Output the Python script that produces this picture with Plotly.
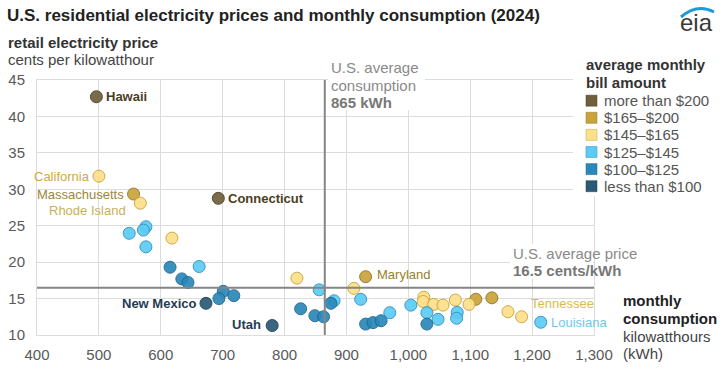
import plotly.graph_objects as go

# ---------------- data ----------------
kwh = [496, 500, 556, 567, 693, 549, 576, 572, 576, 618, 615, 662, 634, 644, 673,
       701, 694, 718, 780, 820, 931, 856, 912, 923, 880, 875, 826, 849, 863, 931,
       943, 956, 970, 1004, 1025, 1024, 1041, 1056, 1030, 1030, 1048, 1076, 1079,
       1078, 1098, 1109, 1135, 1161, 1183, 1214]
cents = [42.7, 31.8, 29.35, 28.1, 28.76, 23.96, 24.86, 24.4, 22.1, 23.3, 19.3, 19.4,
         17.7, 17.2, 14.35, 16.0, 15.0, 15.4, 11.3, 17.8, 18.0, 16.2, 16.4, 14.9,
         14.7, 14.35, 13.6, 12.65, 12.5, 11.5, 11.7, 11.96, 13.06, 14.1, 15.2, 14.6,
         14.2, 14.1, 13.06, 11.5, 12.15, 14.8, 13.1, 12.3, 14.2, 14.9, 15.1, 13.2,
         12.5, 11.75]
bill = [">200", "145-165", "165-200", "145-165", ">200",
        "125-145", "125-145", "125-145", "125-145", "145-165",
        "100-125", "125-145", "100-125", "100-125", "<100",
        "100-125", "100-125", "100-125", "<100", "145-165",
        "165-200", "125-145", "145-165", "125-145", "125-145",
        "100-125", "100-125", "100-125", "100-125", "100-125",
        "100-125", "100-125", "125-145", "125-145", "145-165",
        "145-165", "145-165", "145-165", "125-145", "100-125",
        "125-145", "145-165", "125-145", "125-145", "145-165",
        "165-200", "165-200", "145-165", "145-165", "125-145"]

bill_keys = [">200", "165-200", "145-165", "125-145", "100-125", "<100"]
bill_labels = ["more than $200", "$165–$200", "$145–$165", "$125–$145",
               "$100–$125", "less than $100"]

# labelled states: (name, index into data)
label_names = ["Hawaii", "California", "Massachusetts", "Rhode Island", "Connecticut",
               "New Mexico", "Utah", "Maryland", "Tennessee", "Louisiana"]
label_index = [0, 1, 2, 3, 4, 14, 18, 20, 48, 49]

avg_kwh = 865
avg_price = 16.5
x_ticks = [400, 500, 600, 700, 800, 900, 1000, 1100, 1200, 1300]
y_ticks = [10, 15, 20, 25, 30, 35, 40, 45]

# ---------------- styles ----------------
FONT = "Liberation Sans, Arial, sans-serif"
fill = {">200": "#6f5f3b", "165-200": "#c9a43a", "145-165": "#fde08a",
        "125-145": "#5ccbf5", "100-125": "#2b88b8", "<100": "#2b5a78"}
edge = {">200": "#4a3e22", "165-200": "#8f7428", "145-165": "#c9a43a",
        "125-145": "#2f8fc0", "100-125": "#1f6690", "<100": "#1c3c52"}

label_style = {
    "Hawaii": dict(color="#4a3d1f", bold=True, anchor="left", dx=8, dy=0),
    "California": dict(color="#cfaa40", bold=False, anchor="right", dx=-7, dy=0),
    "Massachusetts": dict(color="#9b8540", bold=False, anchor="right", dx=-8, dy=0),
    "Rhode Island": dict(color="#c9b15a", bold=False, anchor="right", dx=-12, dy=-7),
    "Connecticut": dict(color="#4a3d1f", bold=True, anchor="left", dx=8, dy=0),
    "New Mexico": dict(color="#1e3c53", bold=True, anchor="right", dx=-8, dy=0),
    "Utah": dict(color="#1e3c53", bold=True, anchor="right", dx=-9, dy=1),
    "Maryland": dict(color="#9a7f2e", bold=False, anchor="left", dx=9, dy=2),
    "Tennessee": dict(color="#d8bb4e", bold=False, anchor="left", dx=7, dy=13),
    "Louisiana": dict(color="#6cc8ee", bold=False, anchor="left", dx=8, dy=0),
}

L, R, T, B = 37, 132, 80, 35
W, H = 726, 370
PW, PH = W - L - R, H - T - B


def px_x(px):
    return (px - L) / PW


def px_y(py):
    return (H - B - py) / PH


fig = go.Figure()

for key in [">200", "165-200", "145-165", "125-145", "100-125", "<100"]:
    xs = [kwh[i] for i in range(len(kwh)) if bill[i] == key]
    ys = [cents[i] for i in range(len(kwh)) if bill[i] == key]
    fig.add_trace(go.Scatter(
        x=xs, y=ys, mode="markers", showlegend=False, hoverinfo="skip",
        marker=dict(size=12, color=fill[key], opacity=0.92,
                    line=dict(color=edge[key], width=1))))

# reference lines
fig.add_shape(type="line", x0=avg_kwh, x1=avg_kwh, y0=10, y1=45,
              line=dict(color="#858585", width=2))
fig.add_shape(type="line", x0=400, x1=1300, y0=avg_price, y1=avg_price,
              line=dict(color="#858585", width=2))


def white_box(x0, x1, y0, y1):
    fig.add_shape(type="rect", xref="paper", yref="paper",
                  x0=px_x(x0), x1=px_x(x1), y0=px_y(y1), y1=px_y(y0),
                  fillcolor="white", line=dict(width=0), layer="above")


# white blocks behind legend and the two average notes
white_box(573, 730, 40, 196)
white_box(328, 425, 58, 110)
white_box(510, 593, 244, 279)

ann = []


def txt(text, px, py, size=15, color="#555555", anchor="left"):
    ann.append(dict(text=text, x=px_x(px), y=px_y(py), xref="paper", yref="paper",
                    xanchor=anchor, yanchor="middle", showarrow=False,
                    font=dict(family=FONT, size=size, color=color)))


# title and axis titles
txt("<b>U.S. residential electricity prices and monthly consumption (2024)</b>",
    5, 15, size=17, color="#222222")
txt("<b>retail electricity price</b>", 6, 42, size=15, color="#333333")
txt("cents per kilowatthour", 6, 59, size=15, color="#444444")
txt("<b>monthly</b>", 621, 300, size=15, color="#222222")
txt("<b>consumption</b>", 621, 318, size=15, color="#222222")
txt("kilowatthours", 621, 336, size=15, color="#444444")
txt("(kWh)", 621, 353, size=15, color="#444444")

# average annotations
txt("U.S. average", 329, 68, size=15, color="#8a8a8a")
txt("consumption", 329, 85, size=15, color="#8a8a8a")
txt("<b>865 kWh</b>", 329, 102, size=15, color="#777777")
txt("U.S. average price", 511, 253, size=15, color="#8a8a8a")
txt("<b>16.5 cents/kWh</b>", 511, 270, size=15, color="#777777")

# legend (manual)
txt("<b>average monthly</b>", 584, 64, size=15, color="#333333")
txt("<b>bill amount</b>", 584, 82, size=15, color="#333333")
leg_y0, leg_dy = 100.7, 17.1
for k, (key, lab) in enumerate(zip(bill_keys, bill_labels)):
    cy = leg_y0 + k * leg_dy
    fig.add_shape(type="rect", xref="paper", yref="paper",
                  x0=px_x(586), x1=px_x(597), y0=px_y(cy + 5.5), y1=px_y(cy - 5.5),
                  fillcolor=fill[key], line=dict(color=edge[key], width=0.5),
                  layer="above")
    txt(lab, 602, cy, size=15, color="#555555")

# eia logo
txt("eia", 696, 23, size=24, color="#3a3a3a", anchor="center")
fig.add_shape(type="path", xref="paper", yref="paper",
              path=f"M {px_x(681)},{px_y(17)} Q {px_x(697)},{px_y(3)} {px_x(714)},{px_y(12)}",
              line=dict(color="#1e9ad6", width=3), layer="above")

# state labels
for name, idx in zip(label_names, label_index):
    s = label_style[name]
    t = f"<b>{name}</b>" if s["bold"] else name
    ann.append(dict(text=t, x=kwh[idx], y=cents[idx], xref="x", yref="y",
                    xanchor=s["anchor"], yanchor="middle", showarrow=False,
                    xshift=s["dx"], yshift=s["dy"],
                    font=dict(family=FONT, size=13, color=s["color"])))

fig.update_layout(
    width=W, height=H, autosize=False,
    margin=dict(l=L, r=R, t=T, b=B, autoexpand=False),
    paper_bgcolor="white", plot_bgcolor="white",
    font=dict(family=FONT, size=15, color="#595959"),
    annotations=ann,
    showlegend=False,
)
fig.update_xaxes(range=[400, 1300], tickvals=x_ticks, tickformat=",",
                 automargin=False,
                 showgrid=True, gridcolor="#dcdcdc", gridwidth=1,
                 showline=True, linecolor="#dcdcdc", linewidth=1, mirror=True,
                 zeroline=False, ticks="", ticklabelstandoff=6,
                 tickfont=dict(family=FONT, size=15, color="#595959"))
fig.update_yaxes(range=[10, 45], tickvals=y_ticks,
                 automargin=False,
                 showgrid=True, gridcolor="#dcdcdc", gridwidth=1,
                 showline=True, linecolor="#dcdcdc", linewidth=1, mirror=True,
                 zeroline=False, ticks="", ticklabelstandoff=8,
                 tickfont=dict(family=FONT, size=15, color="#595959"))

fig.write_html("out.html",
               config={"displayModeBar": False},
               post_script="document.body.style.margin='0px';"
                           "document.body.style.overflow='hidden';")
